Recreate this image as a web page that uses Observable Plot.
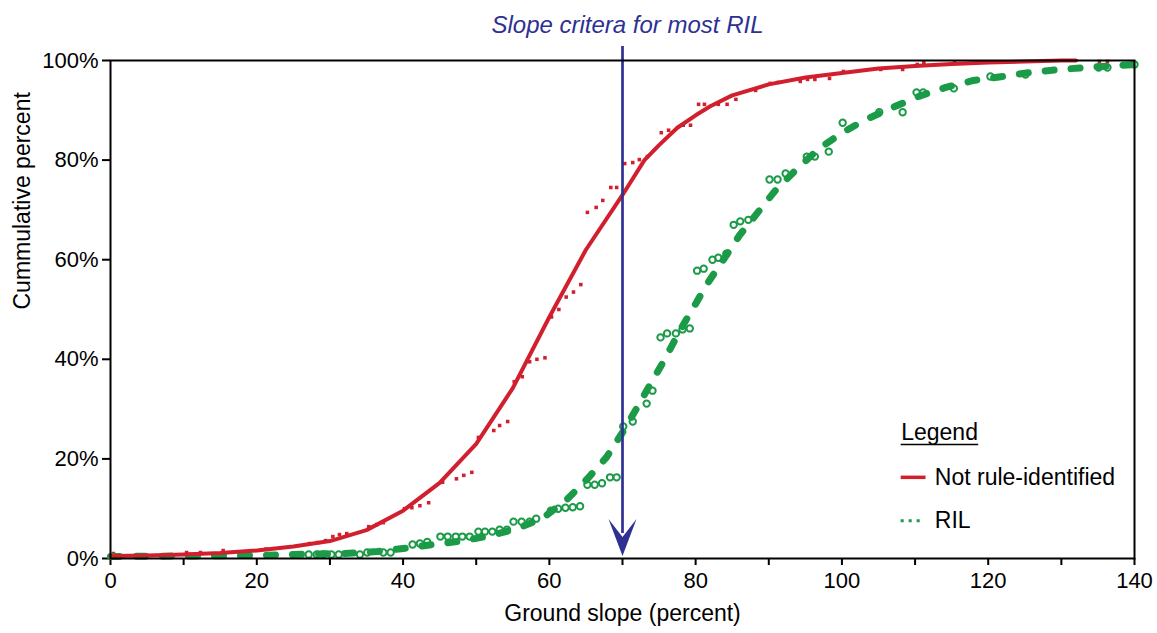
<!DOCTYPE html>
<html>
<head>
<meta charset="utf-8">
<script src="https://cdn.jsdelivr.net/npm/d3@7"></script>
<script src="https://cdn.jsdelivr.net/npm/@observablehq/plot@0.6"></script>
<style>
  html, body { margin: 0; padding: 0; background: #fff; }
  #chart { width: 1157px; height: 633px; }
</style>
</head>
<body>
<div id="chart"></div>
<script>
// Fitted curve: Not rule-identified
const redFitX = [0, 5, 10, 15, 20, 25, 30, 35, 40, 45, 50, 53.3, 55, 60, 65, 70, 73, 75, 77.5, 80, 82, 85, 90, 95, 100, 105, 110, 115, 120, 125, 130, 132];
const redFitY = [0.5, 0.6, 0.8, 1.1, 1.6, 2.4, 3.5, 5.7, 9.6, 15.2, 23, 30.4, 34.2, 48.5, 62, 73, 80, 83, 86.5, 89, 90.8, 93, 95.2, 96.6, 97.5, 98.4, 98.9, 99.3, 99.6, 99.8, 100, 100];

// Fitted curve: RIL
const greenFitX = [0, 10, 20, 25, 32, 36.5, 40, 44, 48, 52, 55.6, 59.2, 62.5, 65.2, 67.8, 70, 72, 73.8, 75.9, 77.7, 79.7, 81.6, 83.8, 86, 88.5, 90.9, 93.9, 96.7, 99.8, 103.2, 107, 110.5, 114.2, 118, 122, 125.8, 129.7, 133.6, 137.7, 140];
const greenFitY = [0.4, 0.5, 0.6, 0.8, 1.0, 1.4, 2.0, 2.8, 3.5, 4.6, 6.0, 8.2, 12, 16, 20.3, 25.3, 30.3, 35, 40.3, 45.4, 50.4, 55.2, 60, 64.9, 69.5, 73.9, 78.3, 82.1, 85.3, 88.1, 90.6, 92.8, 94.6, 96, 96.8, 97.6, 98.2, 98.6, 99, 99.2];

// Observed: Not rule-identified
const redObsX = [0.4, 10.4, 12.3, 15.4, 21.3, 27.2, 28.3, 29.4, 30.4, 31.3, 32.3, 35.3, 36.4, 37.3, 40.2, 41.2, 42.3, 43.5, 45.4, 47.3, 48.3, 49.4, 50.3, 52.4, 53.2, 54.3, 55.2, 56.3, 57.3, 58.3, 59.4, 60.3, 61.3, 62.3, 63.3, 64.3, 65.2, 66.4, 67.3, 68.4, 69.2, 70.3, 71.4, 72.3, 73.4, 75.3, 76.3, 78.3, 79.3, 80.4, 81.2, 83.1, 84.3, 85.5, 88.2, 90.2, 91.3, 94.3, 95.3, 96.3, 98.3, 100.2, 105.3, 108.3, 110.3, 111.2, 115.4, 135.2, 136.3];
const redObsY = [1.0, 1.2, 1.2, 1.6, 1.9, 3.0, 3.2, 3.6, 4.4, 4.8, 5.0, 6.4, 6.8, 7.2, 10.0, 10.2, 10.6, 11.2, 15.3, 16.0, 16.7, 17.3, 24.3, 25.7, 26.7, 27.5, 35.5, 36.5, 39.5, 40.0, 40.3, 48.5, 50.0, 52.5, 53.5, 55.0, 69.5, 70.5, 71.9, 74.5, 74.5, 79.3, 79.5, 80.1, 80.7, 85.5, 86.0, 87.0, 87.0, 91.2, 91.2, 91.2, 91.2, 92.2, 94.0, 95.4, 95.6, 95.8, 96.2, 96.2, 96.4, 97.8, 98.2, 98.2, 99.2, 99.6, 99.6, 99.8, 99.8];

// Observed: RIL
const greenObsX = [27.1, 28.2, 29.1, 30.2, 31.2, 34.1, 35.1, 37.3, 38.3, 41.3, 42.3, 43.3, 45.1, 46.1, 47.2, 48.1, 49.1, 50.3, 51.2, 52.2, 53.2, 54.2, 55.1, 56.2, 57.3, 58.2, 60.2, 61.2, 62.2, 63.2, 64.2, 65.2, 66.2, 67.2, 68.3, 69.2, 70.1, 71.4, 73.3, 74.1, 75.2, 76.1, 77.3, 78.2, 79.2, 80.2, 81.1, 82.3, 83.1, 84.2, 85.2, 86.1, 87.2, 90.1, 91.2, 92.3, 95.2, 96.3, 98.2, 100.1, 105.1, 108.3, 110.2, 111.1, 115.3, 120.3, 125.1, 135.1, 136.3, 140];
const greenObsY = [0.8, 0.8, 0.8, 0.8, 0.8, 0.8, 1.2, 1.2, 1.2, 2.8, 3.0, 3.3, 4.4, 4.4, 4.4, 4.4, 4.4, 5.4, 5.4, 5.4, 5.8, 5.8, 7.4, 7.4, 7.4, 8.0, 9.6, 10.0, 10.2, 10.3, 10.5, 14.8, 14.8, 15.1, 16.3, 16.3, 26.5, 27.5, 31.1, 33.7, 44.4, 45.2, 45.2, 46.0, 46.2, 57.8, 58.2, 60.0, 60.4, 61.2, 67.0, 67.7, 68.0, 76.1, 76.1, 77.3, 80.7, 80.7, 81.7, 87.5, 89.6, 89.6, 93.6, 93.6, 94.4, 96.8, 97.2, 98.6, 98.6, 99.2];

const xTicks = [0, 10, 20, 30, 40, 50, 60, 70, 80, 90, 100, 110, 120, 130, 140];
const yTicks = [0, 20, 40, 60, 80, 100];
const criterion = 70;
const titleText = "Slope critera for most RIL";
const xLabel = "Ground slope (percent)";
const yLabel = "Cummulative percent";
const legendTitle = "Legend";
const seriesNames = ["Not rule-identified", "RIL"];

const RED = "#d11f2e";
const GREEN = "#1b9a48";
const BLUE = "#2e3192";

const redFit = redFitX.map((x, i) => ({x, y: redFitY[i]}));
const greenFit = greenFitX.map((x, i) => ({x, y: greenFitY[i]}));
const redObs = redObsX.map((x, i) => ({x, y: redObsY[i]}));
const greenObs = greenObsX.map((x, i) => ({x, y: greenObsY[i]}));

// stealth arrowhead symbol with tip at origin, pointing down
const arrowHead = {
  draw(ctx) {
    ctx.moveTo(0, 0);
    ctx.lineTo(-14, -37);
    ctx.lineTo(0, -19);
    ctx.lineTo(14, -37);
    ctx.closePath();
  }
};

const chart = Plot.plot({
  width: 1157,
  height: 633,
  marginLeft: 110,
  marginRight: 23,
  marginTop: 60,
  marginBottom: 75,
  style: {fontSize: "22px", fontFamily: "'Liberation Sans', Arial, sans-serif", color: "#000", background: "#fff"},
  x: {domain: [0, 140]},
  y: {domain: [0, 100]},
  marks: [
    Plot.axisX({ticks: xTicks, tickFormat: d => d % 20 === 0 ? String(d) : "", tickSize: 7, tickPadding: 7, strokeWidth: 2, fontSize: 22, label: null}),
    Plot.axisY({ticks: yTicks, tickFormat: d => d + "%", tickSize: 8, tickPadding: 4, strokeWidth: 2, fontSize: 22, label: null}),
    Plot.text([xLabel], {frameAnchor: "bottom", dy: 62, fontSize: 23}),
    Plot.text([yLabel], {frameAnchor: "left", dx: -88, rotate: -90, fontSize: 23}),
    // observed points
    Plot.dot(redObs, {x: "x", y: "y", symbol: "square", r: 2, fill: RED, stroke: "none"}),
    Plot.dot(greenObs, {x: "x", y: "y", r: 3.2, stroke: GREEN, strokeWidth: 2, fill: "none"}),
    // fitted curves
    Plot.line(greenFit, {x: "x", y: "y", stroke: GREEN, strokeWidth: 7, strokeDasharray: "9,17", strokeLinecap: "round"}),
    Plot.line(redFit, {x: "x", y: "y", stroke: RED, strokeWidth: 4}),
    // criterion arrow
    Plot.ruleX([criterion], {x: d => d, y1: 102.8, y2: 5, stroke: BLUE, strokeWidth: 2.7, clip: false}),
    Plot.dot([criterion], {x: d => d, y: 0.5, symbol: arrowHead, fill: BLUE, stroke: "none"}),
    Plot.text([titleText], {x: d => criterion, frameAnchor: "top", dy: -45, dx: 5, fill: BLUE, fontStyle: "italic", fontSize: 24}),
    // legend
    Plot.text([legendTitle], {x: 108.1, y: 25.3, textAnchor: "start", fontSize: 23}),
    Plot.ruleY([22.9], {x1: 108.1, x2: 118.7, stroke: "#000", strokeWidth: 1.5}),
    Plot.ruleY([16.3], {x1: 108.1, x2: 111.5, stroke: RED, strokeWidth: 3.5}),
    Plot.ruleY([7.6], {x1: 108.1, x2: 111.2, stroke: GREEN, strokeWidth: 3, strokeDasharray: "3,5"}),
    Plot.text([seriesNames[0]], {x: 112.7, y: 16.3, textAnchor: "start", fontSize: 23}),
    Plot.text([seriesNames[1]], {x: 112.7, y: 7.6, textAnchor: "start", fontSize: 23}),
    Plot.frame({stroke: "#000", strokeWidth: 2})
  ]
});

document.getElementById("chart").appendChild(chart);
</script>
</body>
</html>
